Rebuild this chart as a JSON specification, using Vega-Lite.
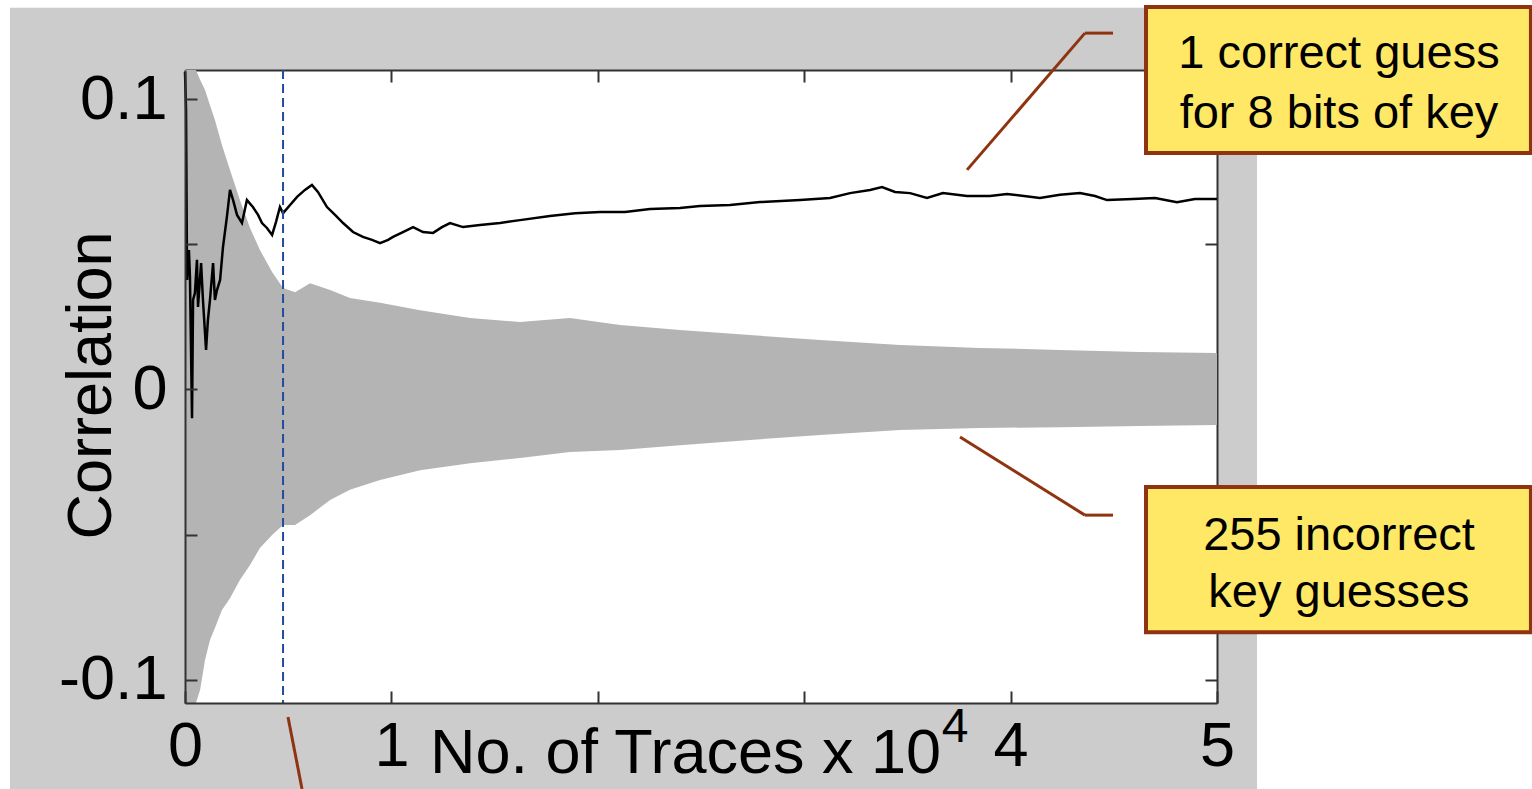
{
  "$schema": "https://vega.github.io/schema/vega-lite/v6.json",
  "width": 1032,
  "height": 633,
  "autosize": {"type": "none"},
  "padding": {"left": 185, "top": 70, "right": 315, "bottom": 86},
  "background": "#cccccc",
  "config": {
    "view": {"stroke": null, "fill": "white"},
    "font": "Liberation Sans",
    "axis": {
      "domainColor": "#333333", "domainWidth": 2,
      "tickColor": "#333333", "tickWidth": 2, "tickSize": -12,
      "labelColor": "black", "labelFontSize": 63, "labelFont": "Liberation Sans",
      "labelOverlap": false, "labelFlush": false,
      "grid": false,
      "titleFontSize": 63, "titleFontWeight": "normal", "titleColor": "black", "titleFont": "Liberation Sans"
    }
  },
  "datasets": {
    "correct": [
      {"x": 0.0, "y": 0.1093}, {"x": 0.005, "y": 0.0962}, {"x": 0.010, "y": 0.0377}, {"x": 0.019, "y": 0.0480},
      {"x": 0.024, "y": 0.0387}, {"x": 0.034, "y": -0.0099}, {"x": 0.039, "y": 0.0308}, {"x": 0.048, "y": 0.0332},
      {"x": 0.058, "y": 0.0446}, {"x": 0.063, "y": 0.0284}, {"x": 0.078, "y": 0.0435}, {"x": 0.087, "y": 0.0308},
      {"x": 0.102, "y": 0.0136}, {"x": 0.111, "y": 0.0239}, {"x": 0.121, "y": 0.0308}, {"x": 0.136, "y": 0.0435},
      {"x": 0.145, "y": 0.0308}, {"x": 0.155, "y": 0.0342}, {"x": 0.170, "y": 0.0377}, {"x": 0.184, "y": 0.0490},
      {"x": 0.203, "y": 0.0594}, {"x": 0.218, "y": 0.0687}, {"x": 0.233, "y": 0.0652}, {"x": 0.252, "y": 0.0601},
      {"x": 0.276, "y": 0.0573}, {"x": 0.300, "y": 0.0652}, {"x": 0.329, "y": 0.0628}, {"x": 0.354, "y": 0.0601},
      {"x": 0.373, "y": 0.0573}, {"x": 0.397, "y": 0.0556}, {"x": 0.422, "y": 0.0532}, {"x": 0.441, "y": 0.0577},
      {"x": 0.460, "y": 0.0628}, {"x": 0.475, "y": 0.0607}, {"x": 0.509, "y": 0.0635}, {"x": 0.543, "y": 0.0663},
      {"x": 0.581, "y": 0.0687}, {"x": 0.615, "y": 0.0704}, {"x": 0.644, "y": 0.0680}, {"x": 0.688, "y": 0.0628},
      {"x": 0.727, "y": 0.0601}, {"x": 0.766, "y": 0.0573}, {"x": 0.814, "y": 0.0542}, {"x": 0.862, "y": 0.0525},
      {"x": 0.906, "y": 0.0515}, {"x": 0.945, "y": 0.0504}, {"x": 0.984, "y": 0.0515}, {"x": 1.008, "y": 0.0525},
      {"x": 1.056, "y": 0.0542}, {"x": 1.105, "y": 0.0559}, {"x": 1.153, "y": 0.0542}, {"x": 1.202, "y": 0.0539},
      {"x": 1.245, "y": 0.0559}, {"x": 1.284, "y": 0.0573}, {"x": 1.347, "y": 0.0559}, {"x": 1.429, "y": 0.0566},
      {"x": 1.526, "y": 0.0573}, {"x": 1.623, "y": 0.0583}, {"x": 1.768, "y": 0.0597}, {"x": 1.890, "y": 0.0607},
      {"x": 2.011, "y": 0.0611}, {"x": 2.132, "y": 0.0611}, {"x": 2.253, "y": 0.0621}, {"x": 2.398, "y": 0.0625},
      {"x": 2.495, "y": 0.0632}, {"x": 2.641, "y": 0.0635}, {"x": 2.786, "y": 0.0645}, {"x": 2.980, "y": 0.0652},
      {"x": 3.125, "y": 0.0659}, {"x": 3.222, "y": 0.0676}, {"x": 3.319, "y": 0.0687}, {"x": 3.377, "y": 0.0697},
      {"x": 3.440, "y": 0.0680}, {"x": 3.513, "y": 0.0676}, {"x": 3.595, "y": 0.0659}, {"x": 3.672, "y": 0.0676},
      {"x": 3.789, "y": 0.0666}, {"x": 3.900, "y": 0.0666}, {"x": 3.983, "y": 0.0673}, {"x": 4.142, "y": 0.0659},
      {"x": 4.239, "y": 0.0670}, {"x": 4.336, "y": 0.0676}, {"x": 4.409, "y": 0.0666}, {"x": 4.467, "y": 0.0652},
      {"x": 4.593, "y": 0.0656}, {"x": 4.700, "y": 0.0659}, {"x": 4.806, "y": 0.0645}, {"x": 4.893, "y": 0.0656},
      {"x": 5.0, "y": 0.0656}
    ],
    "band": [
      {"x": 0.0, "hi": 0.110, "lo": -0.108}, {"x": 0.053, "hi": 0.110, "lo": -0.108},
      {"x": 0.073, "hi": 0.1066, "lo": -0.1035}, {"x": 0.097, "hi": 0.1031, "lo": -0.0932},
      {"x": 0.121, "hi": 0.0979, "lo": -0.0863}, {"x": 0.145, "hi": 0.0928, "lo": -0.0822},
      {"x": 0.179, "hi": 0.0842, "lo": -0.0760}, {"x": 0.218, "hi": 0.0756, "lo": -0.0719},
      {"x": 0.266, "hi": 0.0652, "lo": -0.0656}, {"x": 0.315, "hi": 0.0556, "lo": -0.0605},
      {"x": 0.363, "hi": 0.0480, "lo": -0.0546}, {"x": 0.422, "hi": 0.0404, "lo": -0.0501},
      {"x": 0.475, "hi": 0.0349, "lo": -0.0467}, {"x": 0.533, "hi": 0.0335, "lo": -0.0467},
      {"x": 0.606, "hi": 0.0366, "lo": -0.0433}, {"x": 0.703, "hi": 0.0342, "lo": -0.0381},
      {"x": 0.799, "hi": 0.0315, "lo": -0.0346}, {"x": 0.945, "hi": 0.0298, "lo": -0.0312},
      {"x": 1.139, "hi": 0.0273, "lo": -0.0278}, {"x": 1.381, "hi": 0.0246, "lo": -0.0254},
      {"x": 1.623, "hi": 0.0232, "lo": -0.0236}, {"x": 1.865, "hi": 0.0246, "lo": -0.0216},
      {"x": 2.108, "hi": 0.0222, "lo": -0.0209}, {"x": 2.398, "hi": 0.0205, "lo": -0.0192},
      {"x": 2.737, "hi": 0.0187, "lo": -0.0174}, {"x": 3.077, "hi": 0.0170, "lo": -0.0157},
      {"x": 3.464, "hi": 0.0153, "lo": -0.0140}, {"x": 3.852, "hi": 0.0143, "lo": -0.0133},
      {"x": 4.239, "hi": 0.0136, "lo": -0.0130}, {"x": 4.627, "hi": 0.0129, "lo": -0.0126},
      {"x": 5.0, "hi": 0.0125, "lo": -0.0123}
    ],
    "strips": [
      {"x": 5.194, "x2": 7.5, "y": -0.2, "y2": 0.2},
      {"x": -1.5, "x2": 7.5, "y": 0.1314, "y2": 0.2},
      {"x": -1.5, "x2": -0.848, "y": -0.2, "y2": 0.2}
    ],
    "leaders": [
      {"x": 4.360, "y": 0.1227, "x2": 4.496, "y2": 0.1227},
      {"x": 4.360, "y": 0.1227, "x2": 3.789, "y2": 0.0756},
      {"x": 4.360, "y": -0.0433, "x2": 4.496, "y2": -0.0433},
      {"x": 4.360, "y": -0.0433, "x2": 3.755, "y2": -0.0164},
      {"x": 0.499, "y": -0.1128, "x2": 0.567, "y2": -0.1376}
    ],
    "boxes": [
      {"x": 4.656, "x2": 6.521, "y": 0.1317, "y2": 0.0814},
      {"x": 4.656, "x2": 6.521, "y": -0.0336, "y2": -0.0836}
    ],
    "boxtext": [
      {"x": 5.591, "y": 0.1107, "t": "1 correct guess"},
      {"x": 5.591, "y": 0.0900, "t": "for 8 bits of key"},
      {"x": 5.591, "y": -0.0553, "t": "255 incorrect"},
      {"x": 5.591, "y": -0.0749, "t": "key guesses"}
    ]
  },
  "resolve": {"scale": {"x": "independent", "y": "independent"}, "axis": {"x": "independent", "y": "independent"}},
  "layer": [
    {
      "data": {"name": "band"},
      "mark": {"type": "area", "fill": "#b4b4b4", "interpolate": "linear"},
      "encoding": {
        "x": {"field": "x", "type": "quantitative", "scale": {"domain": [0, 5], "nice": false, "zero": false},
          "axis": {"orient": "bottom", "zindex": 1, "values": [0, 1, 2, 3, 4, 5], "format": "d",
            "labelExpr": "datum.value == 2 || datum.value == 3 ? '' : datum.label",
            "labelPadding": 24,
            "title": "No. of Traces x 10", "titleX": 500, "titleY": 69, "titleBaseline": "alphabetic", "titleAlign": "center", "titleAngle": 0}},
        "y": {"field": "hi", "type": "quantitative", "scale": {"domain": [-0.108, 0.110], "nice": false, "zero": false},
          "axis": {"orient": "left", "zindex": 1, "values": [-0.1, -0.05, 0, 0.05, 0.1],
            "labelExpr": "datum.value == 0.1 ? '0.1' : datum.value == 0 ? '0' : datum.value == -0.1 ? '-0.1' : ''",
            "labelPadding": 30,
            "title": "Correlation", "titleAngle": -90, "titleX": -75, "titleY": 315, "titleBaseline": "alphabetic", "titleAlign": "center"}},
        "y2": {"field": "lo"}
      }
    },
    {
      "data": {"name": "correct"},
      "mark": {"type": "line", "stroke": "black", "strokeWidth": 2.5},
      "encoding": {
        "x": {"field": "x", "type": "quantitative", "scale": {"domain": [0, 5], "nice": false, "zero": false},
          "axis": {"orient": "top", "values": [0, 1, 2, 3, 4, 5], "labels": false, "title": null}},
        "y": {"field": "y", "type": "quantitative", "scale": {"domain": [-0.108, 0.110], "nice": false, "zero": false},
          "axis": {"orient": "right", "values": [-0.1, -0.05, 0, 0.05, 0.1], "labels": false, "title": null}}
      }
    },
    {
      "data": {"values": [{"x": 0.475}]},
      "mark": {"type": "rule", "stroke": "#1f4e9e", "strokeWidth": 2, "strokeDash": [9, 5]},
      "encoding": {
        "x": {"field": "x", "type": "quantitative", "scale": {"domain": [0, 5], "nice": false, "zero": false}, "axis": null}
      }
    },
    {
      "data": {"name": "strips"},
      "mark": {"type": "rect", "fill": "white"},
      "encoding": {
        "x": {"field": "x", "type": "quantitative", "scale": {"domain": [0, 5], "nice": false, "zero": false}, "axis": null},
        "x2": {"field": "x2"},
        "y": {"field": "y", "type": "quantitative", "scale": {"domain": [-0.108, 0.110], "nice": false, "zero": false}, "axis": null},
        "y2": {"field": "y2"}
      }
    },
    {
      "data": {"name": "leaders"},
      "mark": {"type": "rule", "stroke": "#8f3410", "strokeWidth": 3},
      "encoding": {
        "x": {"field": "x", "type": "quantitative", "scale": {"domain": [0, 5], "nice": false, "zero": false}, "axis": null},
        "x2": {"field": "x2"},
        "y": {"field": "y", "type": "quantitative", "scale": {"domain": [-0.108, 0.110], "nice": false, "zero": false}, "axis": null},
        "y2": {"field": "y2"}
      }
    },
    {
      "data": {"name": "boxes"},
      "mark": {"type": "rect", "fill": "#ffe866", "stroke": "#8f3410", "strokeWidth": 4},
      "encoding": {
        "x": {"field": "x", "type": "quantitative", "scale": {"domain": [0, 5], "nice": false, "zero": false}, "axis": null},
        "x2": {"field": "x2"},
        "y": {"field": "y", "type": "quantitative", "scale": {"domain": [-0.108, 0.110], "nice": false, "zero": false}, "axis": null},
        "y2": {"field": "y2"}
      }
    },
    {
      "data": {"name": "boxtext"},
      "mark": {"type": "text", "font": "Liberation Sans", "fontSize": 47, "align": "center", "baseline": "alphabetic", "color": "black"},
      "encoding": {
        "x": {"field": "x", "type": "quantitative", "scale": {"domain": [0, 5], "nice": false, "zero": false}, "axis": null},
        "y": {"field": "y", "type": "quantitative", "scale": {"domain": [-0.108, 0.110], "nice": false, "zero": false}, "axis": null},
        "text": {"field": "t"}
      }
    },
    {
      "data": {"values": [{"x": 3.731, "y": -0.1214, "t": "4"}]},
      "mark": {"type": "text", "font": "Liberation Sans", "fontSize": 48, "align": "center", "baseline": "alphabetic", "color": "black"},
      "encoding": {
        "x": {"field": "x", "type": "quantitative", "scale": {"domain": [0, 5], "nice": false, "zero": false}, "axis": null},
        "y": {"field": "y", "type": "quantitative", "scale": {"domain": [-0.108, 0.110], "nice": false, "zero": false}, "axis": null},
        "text": {"field": "t"}
      }
    }
  ]
}
